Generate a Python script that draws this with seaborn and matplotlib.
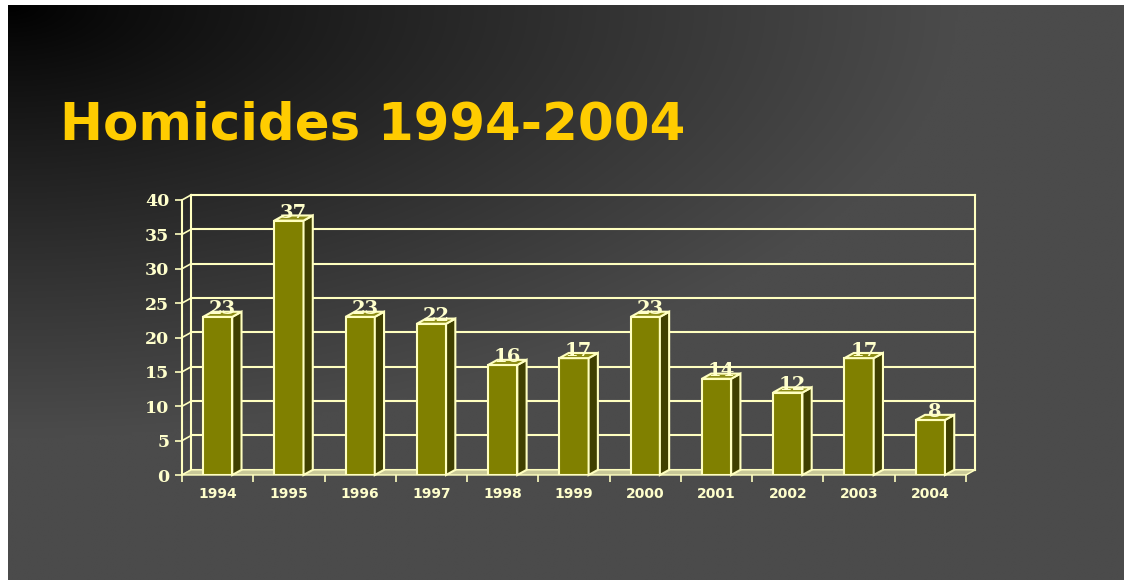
import numpy as np
import pandas as pd
import matplotlib
matplotlib.use("Agg")
import matplotlib.pyplot as plt
from matplotlib.patches import Polygon
import seaborn as sns

# - Chart data -
years = ["1994", "1995", "1996", "1997", "1998", "1999", "2000", "2001", "2002", "2003", "2004"]
homicides = [23, 37, 23, 22, 16, 17, 23, 14, 12, 17, 8]
y_ticks = [0, 5, 10, 15, 20, 25, 30, 35, 40]
title_text = "Homicides 1994-2004"

# - Colours -
front_col = "#808000"
side_col = "#404000"
top_col = "#8c8c14"
edge_col = "#ffffc0"
text_col = "#ffffcc"
title_col = "#ffcc00"

W, H = 1124, 580
fig = plt.figure(figsize=(W / 100, H / 100), dpi=100, facecolor="white")

# - Slide background (dark gradient from top-left) -
bg = fig.add_axes([8 / W, 0, (W - 8) / W, (H - 5) / H])
gx, gy = np.meshgrid(np.linspace(0, 1, 400), np.linspace(0, 1, 200))
dist = np.clip(np.sqrt((gx / 0.85) ** 2 + (gy / 0.75) ** 2), 0, 1)
shade = (75 * dist ** 0.85) / 255.0
bg.imshow(np.dstack([shade, shade, shade]), aspect="auto", extent=[0, 1, 1, 0], interpolation="bilinear")
bg.set_axis_off()

fig.text(60 / W, 1 - 140 / H, title_text, color=title_col, fontsize=37,
         fontweight="bold", family="DejaVu Sans", ha="left", va="baseline")

# - Chart axes (front plane) -
ax = fig.add_axes([182 / W, 105 / H, 784 / W, 275 / H])
ax.set_facecolor("none")
df = pd.DataFrame({"year": years, "count": homicides})
sns.barplot(data=df, x="year", y="count", color=front_col, width=0.41,
            edgecolor=edge_col, linewidth=1.5, saturation=1, ax=ax, zorder=3)

x0, x1 = -0.5, len(years) - 0.5
dx, dy = 0.13, 0.75   # depth offset in data units
ax.set_xlim(x0, x1)
ax.set_ylim(0, 40)

# back wall gridlines + side wall lines
for v in y_ticks:
    ax.plot([x0 + dx, x1 + dx], [v + dy, v + dy], color=edge_col, lw=1.5, zorder=1, clip_on=False)
    ax.plot([x0, x0 + dx], [v, v + dy], color=edge_col, lw=1.2, zorder=1, clip_on=False)
ax.plot([x0 + dx, x0 + dx], [dy, 40 + dy], color=edge_col, lw=1.5, zorder=1, clip_on=False)
ax.plot([x1 + dx, x1 + dx], [dy, 40 + dy], color=edge_col, lw=1.5, zorder=1, clip_on=False)
ax.plot([x0, x0], [0, 40], color=edge_col, lw=1.5, zorder=2, clip_on=False)

# floor
ax.add_patch(Polygon([[x0, 0], [x1, 0], [x1 + dx, dy], [x0 + dx, dy]], closed=True,
                     facecolor="#c8c898", edgecolor=edge_col, lw=1.0, zorder=2, clip_on=False))

# 3D sides and tops of the bars
for bar, val in zip(ax.patches[:], homicides):
    if not isinstance(bar, matplotlib.patches.Rectangle):
        continue
    bx, bw, bh = bar.get_x(), bar.get_width(), bar.get_height()
    side = [[bx + bw, 0], [bx + bw + dx, dy], [bx + bw + dx, bh + dy], [bx + bw, bh]]
    top = [[bx, bh], [bx + bw, bh], [bx + bw + dx, bh + dy], [bx + dx, bh + dy]]
    ax.add_patch(Polygon(side, closed=True, facecolor=side_col, edgecolor=edge_col, lw=1.5, zorder=3, clip_on=False))
    ax.add_patch(Polygon(top, closed=True, facecolor=top_col, edgecolor=edge_col, lw=1.5, zorder=3, clip_on=False))
    ax.text(bx + bw / 2 + dx / 2, bh + dy * 0.5, str(val), color=text_col, fontsize=14,
            fontweight="bold", family="DejaVu Serif", ha="center", va="baseline", zorder=5)

# - Ticks and labels -
for s in ax.spines.values():
    s.set_visible(False)
ax.set_xlabel("")
ax.set_ylabel("")
ax.set_yticks(y_ticks)
ax.set_yticklabels([str(v) for v in y_ticks], family="DejaVu Serif", fontweight="bold",
                   fontsize=12.5, color=text_col)
ax.tick_params(axis="y", length=5, width=1.2, color=edge_col, pad=4)
ax.set_xticks(range(len(years)))
ax.set_xticklabels(years, family="DejaVu Sans", fontweight="bold", fontsize=10, color=text_col)
ax.set_xticks(np.arange(x0, x1 + 0.01, 1), minor=True)
ax.tick_params(axis="x", which="major", length=0, pad=9)
ax.tick_params(axis="x", which="minor", length=5, width=1.2, color=edge_col)
ax.grid(False)

fig.savefig("out.png", dpi=100, facecolor=fig.get_facecolor())
